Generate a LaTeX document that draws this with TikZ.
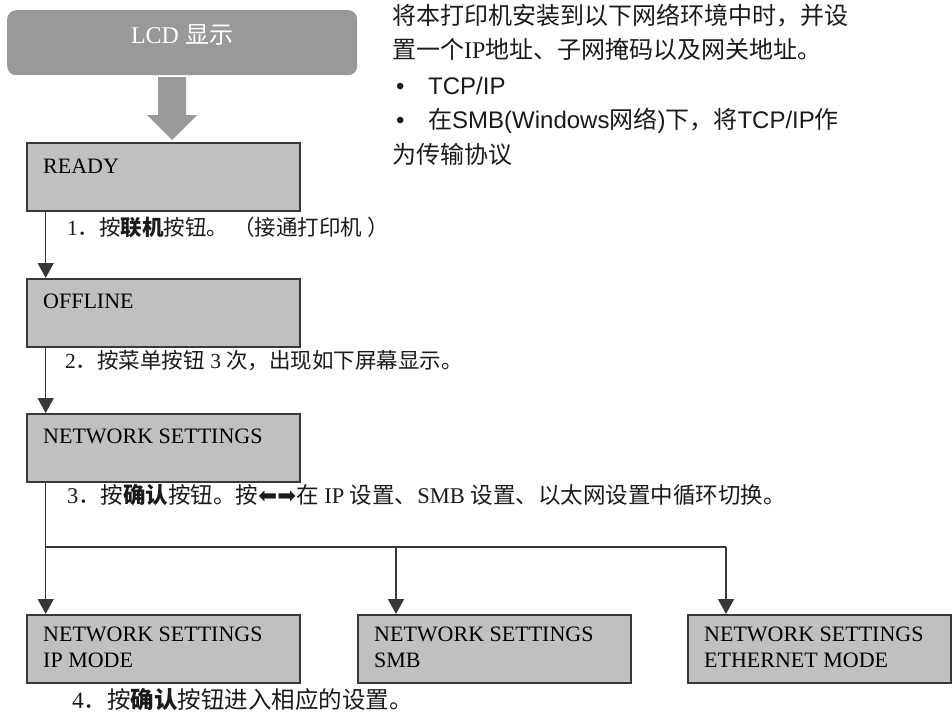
\documentclass[tikz,border=0pt]{standalone}
\usepackage{fontspec}
\setmainfont{Liberation Serif}
\setsansfont{Liberation Sans}
\newfontfamily\cjk{Noto Sans CJK SC}
\newfontfamily\sym{DejaVu Sans}
\usetikzlibrary{arrows.meta}
\definecolor{lcdgray}{HTML}{999999}
\definecolor{boxgray}{HTML}{C0C0C0}
\definecolor{linegray}{HTML}{383838}
\definecolor{txt}{HTML}{1A1A1A}
\begin{document}
\begin{tikzpicture}[x=1pt,y=-1pt,
  lcdbox/.style={fill=lcdgray, rounded corners=9pt, minimum width=350pt, minimum height=65pt, anchor=north west, inner sep=0},
  screen/.style={draw=linegray, line width=1.5pt, fill=boxgray, anchor=north west, minimum width=273pt, minimum height=68pt, inner sep=0},
  boxtext/.style={anchor=base west, inner sep=0, font=\fontsize{22}{26}\selectfont, text=black},
  steptext/.style={anchor=base west, inner sep=0, font=\fontsize{21.5}{26}\selectfont, text=txt},
  infotext/.style={anchor=base west, inner sep=0, font=\fontsize{24}{28}\selectfont, text=txt},
  conn/.style={draw=linegray, line width=1.5pt},
  arr/.style={conn, -{Triangle[length=15pt,width=16pt]}},
]
\useasboundingbox (0,0) rectangle (952,717);

% LCD header
\node[lcdbox] (lcd) at (7,10) {};
\node[anchor=center, inner sep=0, text=white, font=\fontsize{24}{28}\selectfont] (lcdt) at (182,35) {LCD {\cjk 显示}};
\fill[lcdgray] (158,77) -- (186,77) -- (186,115) -- (197,115) -- (172,140) -- (147,115) -- (158,115) -- cycle;

% info text
\node[infotext] (i1) at (392,25) {\cjk 将本打印机安装到以下网络环境中时，并设};
\node[infotext] (i2) at (392,59) {{\cjk 置一个}IP{\cjk 地址、子网掩码以及网关地址。}};
\node[infotext] (b1) at (396,94) {\sffamily •};
\node[infotext] (i3) at (428,94) {\sffamily TCP/IP};
\node[infotext] (b2) at (396,128) {\sffamily •};
\node[infotext] (i4) at (428,128) {{\cjk 在}\sffamily SMB(Windows{\cjk 网络})\rmfamily{\cjk 下，将}\sffamily TCP/IP{\cjk 作}};
\node[infotext] (i5) at (392,163) {\cjk 为传输协议};

% screens
\coordinate (ax) at (45.7,0);
\node[screen] (ready) at (26,142) {};
\node[boxtext] (readyt) at ([xshift=17pt,yshift=-31pt]ready.north west) {READY};
\node[screen] (offline) at (26,278) {};
\node[boxtext] (offlinet) at ([xshift=17pt,yshift=-30pt]offline.north west) {OFFLINE};
\node[screen] (net) at (26,413) {};
\node[boxtext] (nett) at ([xshift=17pt,yshift=-30pt]net.north west) {NETWORK SETTINGS};

\node[screen] (ip) at (26,614) {};
\node[boxtext] (ipt) at ([xshift=17pt,yshift=-27pt]ip.north west) {NETWORK SETTINGS};
\node[boxtext] (ipt2) at ([xshift=17pt,yshift=-53pt]ip.north west) {IP MODE};
\node[screen] (smb) at (357,614) {};
\node[boxtext] (smbt) at ([xshift=17pt,yshift=-27pt]smb.north west) {NETWORK SETTINGS};
\node[boxtext] (smbt2) at ([xshift=17pt,yshift=-53pt]smb.north west) {SMB};
\node[screen, minimum width=263pt] (eth) at (687,614) {};
\node[boxtext] (etht) at ([xshift=17pt,yshift=-27pt]eth.north west) {NETWORK SETTINGS};
\node[boxtext] (etht2) at ([xshift=17pt,yshift=-53pt]eth.north west) {ETHERNET MODE};

% step texts
\node[steptext] (s1) at (67,235) {1{\cjk ．按}{\cjk\bfseries 联机}{\cjk 按钮。 （接通打印机 ）}};
\node[steptext] (s2) at (65,368) {2{\cjk ．按菜单按钮} 3 {\cjk 次，出现如下屏幕显示。}};
\node[steptext, font=\fontsize{22.5}{26}\selectfont] (s3) at (67,503) {3{\cjk ．按}{\cjk\bfseries 确认}{\cjk 按钮。按}{\sym ⬅➡}{\cjk 在} IP {\cjk 设置、}SMB {\cjk 设置、以太网设置中循环切换。}};
\node[steptext, font=\fontsize{23.5}{27}\selectfont] (s4) at (72,708) {4{\cjk ．按}{\cjk\bfseries 确认}{\cjk 按钮进入相应的设置。}};

% connectors
\draw[arr] (ready.south -| ax) -- (offline.north -| ax);
\draw[arr] (offline.south -| ax) -- (net.north -| ax);
\coordinate (jl) at (45.7,547);
\coordinate (jm) at (396,547);
\coordinate (jr) at (726,547);
\draw[conn] (net.south -| ax) -- (jl) -- (jr);
\draw[arr] (jl) -- (ip.north -| jl);
\draw[arr] (jm) -- (smb.north -| jm);
\draw[arr] (jr) -- (eth.north -| jr);
\end{tikzpicture}
\end{document}
